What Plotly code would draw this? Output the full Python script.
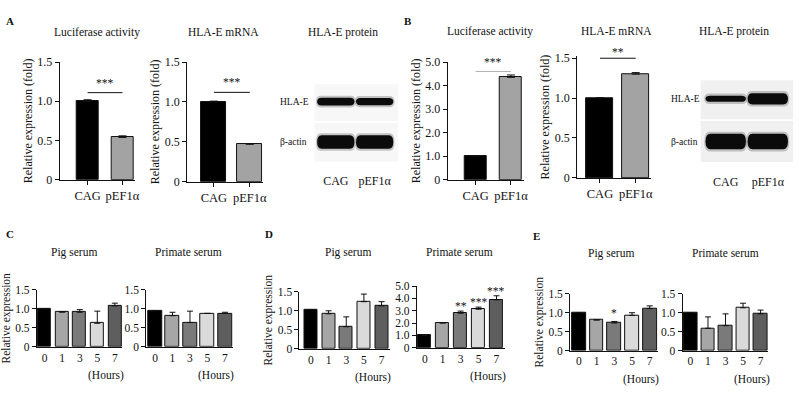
import plotly.graph_objects as go

W, H = 799, 405
FONT = "Liberation Serif, Times New Roman, serif"
INK = "#111111"

# ---------------- data ----------------
groups = ["CAG", "pEF1α"]
A_luc = [1.00, 0.54]
A_luc_err = [0.02, 0.02]
A_mrna = [1.00, 0.47]
A_mrna_err = [0.01, 0.005]
B_luc = [1.00, 4.35]
B_luc_err = [0.03, 0.10]
B_mrna = [1.00, 1.30]
B_mrna_err = [0.005, 0.02]
A_luc_sig = "***"
A_mrna_sig = "***"
B_luc_sig = "***"
B_mrna_sig = "**"

hours = ["0", "1", "3", "5", "7"]
C_pig = [1.00, 0.91, 0.91, 0.62, 1.08]
C_pig_err = [0.0, 0.02, 0.07, 0.32, 0.07]
C_pri = [0.95, 0.82, 0.64, 0.88, 0.88]
C_pri_err = [0.0, 0.09, 0.30, 0.0, 0.03]
D_pig = [1.03, 0.92, 0.58, 1.24, 1.13]
D_pig_err = [0.0, 0.08, 0.26, 0.20, 0.11]
D_pri = [1.00, 2.00, 2.80, 3.12, 3.88]
D_pri_err = [0.0, 0.03, 0.17, 0.17, 0.33]
E_pig = [1.00, 0.81, 0.73, 0.93, 1.11]
E_pig_err = [0.0, 0.0, 0.04, 0.07, 0.07]
E_pri = [1.00, 0.59, 0.66, 1.13, 0.97]
E_pri_err = [0.0, 0.30, 0.31, 0.12, 0.10]
D_pri_sig = ["", "", "**", "***", "***"]
E_pig_sig = ["", "", "*", "", ""]

blot_rows = ["HLA-E", "β-actin"]
blot_lanes = ["CAG", "pEF1α"]
blotA_band = [[0.80, 0.75], [1.40, 1.40]]   # relative band thickness
blotB_band = [[0.60, 1.10], [1.50, 1.50]]

# ---------------- styling helpers ----------------
group_colors = ["#000000", "#a3a3a3"]
hour_colors = ["#000000", "#a6a6a6", "#7a7a7a", "#dadada", "#5e5e5e"]


def dom(x0, x1, top, bot):
    return [x0 / W, x1 / W], [1 - bot / H, 1 - top / H]


fig = go.Figure()
lay = {}
annotations = []
shapes = []


def axname(i, a):
    return a + ("axis" if i == 1 else "axis%d" % i)


def ref(i, a):
    return a + ("" if i == 1 else str(i))


def add_bar_panel(i, box, cats, vals, errs, colors, xr, yr, ytv, ytt,
                  bw, tfs, ytitle=None, xticks=True, cap=3, tts=11.5):
    xd, yd = dom(*box)
    xs = list(range(len(cats)))
    fig.add_trace(go.Bar(
        x=xs, y=vals, width=bw, xaxis=ref(i, "x"), yaxis=ref(i, "y"),
        marker=dict(color=colors, line=dict(color=INK, width=1)),
        error_y=dict(type="data", array=errs, arrayminus=[0] * len(errs),
                     symmetric=False, color=INK, thickness=1, width=cap),
        hoverinfo="skip", showlegend=False))
    lay[axname(i, "x")] = dict(
        domain=xd, anchor=ref(i, "y"), range=xr, showline=True,
        linecolor=INK, linewidth=1, showgrid=False, zeroline=False,
        tickvals=xs, ticktext=cats,
        ticks="outside" if xticks else "", ticklen=4, tickcolor=INK,
        tickfont=dict(family=FONT, size=tfs + (0.5 if xticks else 0), color=INK),
        fixedrange=True)
    lay[axname(i, "y")] = dict(
        domain=yd, anchor=ref(i, "x"), range=yr, showline=True,
        linecolor=INK, linewidth=1, showgrid=False, zeroline=False,
        tickvals=ytv, ticktext=ytt, ticks="outside", ticklen=4,
        tickcolor=INK, tickfont=dict(family=FONT, size=tfs, color=INK),
        fixedrange=True,
        title=dict(text=ytitle or "", standoff=2,
                   font=dict(family=FONT, size=tts, color=INK)))


def add_sig(i, y, label, color=INK, shift=9):
    fig.add_trace(go.Scatter(
        x=[0, 1], y=[y, y], mode="lines", xaxis=ref(i, "x"), yaxis=ref(i, "y"),
        line=dict(color=color, width=1), hoverinfo="skip", showlegend=False))
    annotations.append(dict(
        x=0.5, y=y, xref=ref(i, "x"), yref=ref(i, "y"), text=label,
        showarrow=False, yanchor="middle", yshift=shift,
        font=dict(family=FONT, size=11.5, color=INK)))


def add_stars(i, vals, errs, marks, shift=5):
    for k, m in enumerate(marks):
        if m:
            annotations.append(dict(
                x=k, y=vals[k] + errs[k], xref=ref(i, "x"), yref=ref(i, "y"),
                text=m, showarrow=False, yanchor="middle", yshift=shift,
                font=dict(family=FONT, size=11.5, color=INK)))


def text(x, y, s, size=11.5, bold=False, anchor="center"):
    annotations.append(dict(
        x=x / W, y=1 - y / H, xref="paper", yref="paper", showarrow=False,
        text="<b>%s</b>" % s if bold else s, xanchor=anchor, yanchor="middle",
        font=dict(family=FONT, size=size, color=INK)))


t15 = [0, 0.5, 1.0, 1.5]
t15t = ["0", "0.5", "1.0", "1.5"]
t5 = [0, 1, 2, 3, 4, 5]
t5t = ["0", "1.0", "2.0", "3.0", "4.0", "5.0"]

# ---- top row ----
add_bar_panel(1, (60, 136, 57, 179), groups, A_luc, A_luc_err, group_colors,
              [-0.8, 1.37], [0, 1.5], t15, t15t, 0.63, 12,
              "Relative expression (fold)", cap=4, tts=12)
add_sig(1, 1.11, A_luc_sig, shift=10)
add_bar_panel(2, (188, 264, 57, 181), groups, A_mrna, A_mrna_err, group_colors,
              [-0.75, 1.36], [0, 1.5], t15, t15t, 0.7, 12,
              "Relative expression (fold)", cap=4, tts=12)
add_sig(2, 1.12, A_mrna_sig, shift=10)
add_bar_panel(3, (450, 527, 57, 179), groups, B_luc, B_luc_err, group_colors,
              [-0.79, 1.38], [0, 5], t5, t5t, 0.63, 12,
              "Relative expression (fold)", cap=4, tts=12)
add_sig(3, 4.6, B_luc_sig, color="#b0b0b0", shift=9)
add_bar_panel(4, (580, 654, 51, 177), groups, B_mrna, B_mrna_err, group_colors,
              [-0.64, 1.42], [0, 1.525], t15, t15t, 0.75, 12,
              "Relative expression (fold)", cap=4, tts=12)
add_sig(4, 1.5, B_mrna_sig, shift=6)

# ---- bottom row ----
add_bar_panel(5, (37, 123, 293, 352), hours, C_pig, C_pig_err, hour_colors,
              [-0.45, 4.43], [0, 1.5], t15, t15t, 0.74, 11.5,
              "Relative expression", xticks=False)
add_bar_panel(6, (147, 234, 293, 352), hours, C_pri, C_pri_err, hour_colors,
              [-0.5, 4.45], [0, 1.5], t15, t15t, 0.78, 11.5, xticks=False)
add_bar_panel(7, (301, 392, 295, 354), hours, D_pig, D_pig_err, hour_colors,
              [-0.65, 4.48], [0, 1.5], t15, t15t, 0.73, 11.5,
              "Relative expression", xticks=False)
add_bar_panel(8, (419, 508, 289, 353), hours, D_pri, D_pri_err, hour_colors,
              [-0.44, 4.5], [0, 5], t5, t5t, 0.72, 11.5, xticks=False)
add_stars(8, D_pri, D_pri_err, D_pri_sig, shift=5)
add_bar_panel(9, (573, 661, 297, 356), hours, E_pig, E_pig_err, hour_colors,
              [-0.5, 4.45], [0, 1.5], t15, t15t, 0.78, 11.5,
              "Relative expression", xticks=False)
add_stars(9, E_pig, E_pig_err, E_pig_sig, shift=8)
add_bar_panel(10, (686, 772, 297, 356), hours, E_pri, E_pri_err, hour_colors,
              [-0.45, 4.43], [0, 1.5], t15, t15t, 0.77, 11.5, xticks=False)

for i in (5, 6, 7, 8, 9, 10):
    annotations.append(dict(
        x=3.5, y=0, xref=ref(i, "x"), yref=ref(i, "y"), text="(Hours)",
        showarrow=False, yanchor="top", yshift=-20,
        font=dict(family=FONT, size=11.5, color=INK)))


# ---- western blots ----
def band_path(x0, x1, yc, h):
    dx = (x1 - x0) * 0.12
    yt, yb = yc - h, yc + h
    return ("M {a},{c} Q {a},{t} {a2},{t} L {b2},{t} Q {b},{t} {b},{c} "
            "Q {b},{u} {b2},{u} L {a2},{u} Q {a},{u} {a},{c} Z").format(
        a=x0, b=x1, a2=x0 + dx, b2=x1 - dx, c=yc, t=yt, u=yb)


def add_blot(i, box, bands, xr, bg, label_x):
    xd, yd = dom(*box)
    xs = list(range(len(blot_lanes)))
    lay[axname(i, "x")] = dict(
        domain=xd, anchor=ref(i, "y"), range=xr, showline=False,
        showgrid=False, zeroline=False, tickvals=xs, ticktext=blot_lanes,
        ticks="", tickfont=dict(family=FONT, size=12, color=INK),
        ticklabelstandoff=6, fixedrange=True)
    lay[axname(i, "y")] = dict(
        domain=yd, anchor=ref(i, "x"), range=[1.6, -0.43], visible=False,
        fixedrange=True)
    fig.add_trace(go.Scatter(x=xs, y=[0, 0], mode="markers", opacity=0,
                             xaxis=ref(i, "x"), yaxis=ref(i, "y"),
                             hoverinfo="skip", showlegend=False))
    for r, row in enumerate(blot_rows):
        shapes.append(dict(type="rect", xref=ref(i, "x"), yref=ref(i, "y"),
                           x0=-0.6, x1=len(blot_lanes) - 0.4,
                           y0=r - 0.48, y1=r + 0.48, fillcolor=bg,
                           line=dict(width=0), layer="below"))
        for l in range(len(blot_lanes)):
            h = bands[r][l] * 0.12
            shapes.append(dict(type="path", xref=ref(i, "x"), yref=ref(i, "y"),
                               path=band_path(l - 0.51, l + 0.51, r, h + 0.05),
                               fillcolor="rgba(40,40,40,0.25)",
                               line=dict(width=0)))
            shapes.append(dict(type="path", xref=ref(i, "x"), yref=ref(i, "y"),
                               path=band_path(l - 0.48, l + 0.48, r, h),
                               fillcolor="#0b0b0b", line=dict(width=0)))
        annotations.append(dict(
            x=label_x, y=r, xref=ref(i, "x") + " domain",
            yref=ref(i, "y"), text=row, showarrow=False, xanchor="left",
            yanchor="middle", font=dict(family=FONT, size=9.5, color=INK)))


add_blot(11, (316, 400, 80, 165), blotA_band, [-0.55, 1.6], "#f7f7f7", -0.44)
add_blot(12, (704, 797, 76, 166), blotB_band, [-0.6, 1.6], "#f0f0f0", -0.34)

# ---- titles and panel letters ----
text(10, 15, "A", 11, bold=True)
text(410, 14, "B", 11, bold=True)
text(10, 235, "C", 11, bold=True)
text(270, 235, "D", 11, bold=True)
text(539, 237, "E", 11, bold=True)
for x, y, s in [(97, 26, "Luciferase activity"), (225, 26, "HLA-E mRNA"),
                (345, 26, "HLA-E protein"), (492, 25, "Luciferase activity"),
                (620, 25, "HLA-E mRNA"), (738, 25, "HLA-E protein"),
                (74, 254, "Pig serum"), (189, 254, "Primate serum"),
                (350, 254, "Pig serum"), (462, 254, "Primate serum"),
                (614, 255, "Pig serum"), (729, 255, "Primate serum")]:
    text(x, y, s, 11.5)

fig.update_layout(
    width=W, height=H, margin=dict(l=0, r=0, t=0, b=0),
    paper_bgcolor="white", plot_bgcolor="white", showlegend=False,
    bargap=0, annotations=annotations, shapes=shapes,
    font=dict(family=FONT, color=INK), **lay)

fig.write_html("out.html", config={"displayModeBar": False},
               post_script="document.body.style.margin='0px';")
